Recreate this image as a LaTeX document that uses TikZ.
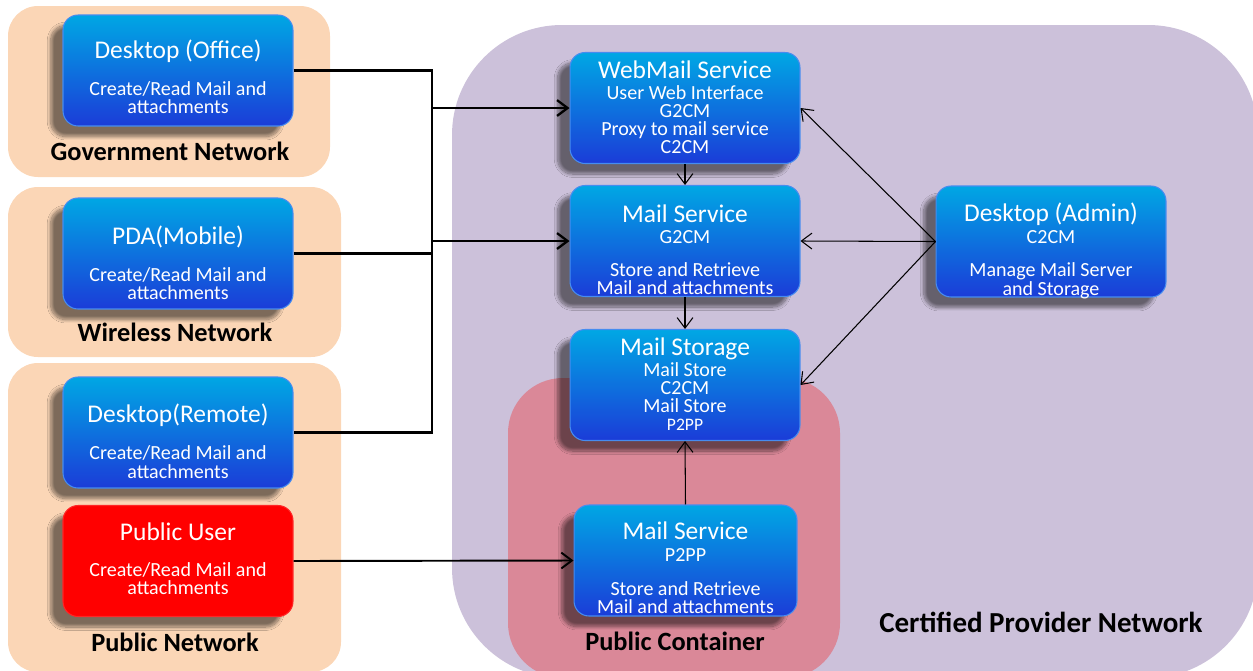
\documentclass[tikz,border=0pt]{standalone}
\usepackage{fontspec}
\setmainfont{Carlito}
\usetikzlibrary{arrows.meta,shadows.blur,calc}

\definecolor{peach}{RGB}{251,214,182}
\definecolor{lavender}{RGB}{204,193,218}
\definecolor{rosebg}{RGB}{218,136,152}
\definecolor{boxtop}{RGB}{0,167,228}
\definecolor{boxbot}{RGB}{27,60,216}
\definecolor{boxedge}{RGB}{70,140,240}

\newcommand\captionfont{\fontsize{11.4}{10.3}\selectfont\lineskiplimit=-100pt\relax}
\newcommand\ttl[1]{{\fontsize{14.5}{16}\selectfont #1}}

\tikzset{
  unit/.style={rounded corners=0.3cm, minimum width=4.6cm, minimum height=2.22cm,
    top color=boxtop, bottom color=boxbot, draw=boxedge, line width=0.6pt,
    blur shadow={shadow xshift=-7pt, shadow yshift=-6pt, shadow blur steps=12, shadow opacity=50}},
  redunit/.style={unit, top color=red, bottom color=red, draw=red!85!white},
  caption/.style={font=\captionfont, text=white, align=center, anchor=north, inner sep=0pt},
  zonelabel/.style={font=\fontsize{15}{18}\selectfont\bfseries, inner sep=0pt},
  bus/.style={line width=1.4pt},
  feed/.style={line width=1.4pt, -{Straight Barb[length=6pt,width=9pt,line width=1.3pt]}},
  link/.style={line width=0.6pt, -{Straight Barb[length=6pt,width=9pt]}},
}

\begin{document}
\begin{tikzpicture}[x=0.02cm, y=-0.02cm]
\useasboundingbox (0,0) rectangle (1253,670);
\clip (0,0) rectangle (1253,670);

% network zones
\fill[peach, rounded corners=0.6cm] (8,6) rectangle (330,177);
\fill[peach, rounded corners=0.6cm] (8,187) rectangle (341,357);
\fill[peach, rounded corners=0.6cm] (8,363) rectangle (341,672);
\fill[lavender, rounded corners=2.2cm] (452,25) rectangle (1258,678);
\fill[rosebg, rounded corners=1.1cm] (508,378) rectangle (840,678);

\node[zonelabel] (gov-l) at (170,151) {Government Network};
\node[zonelabel] (wl-l) at (175,332) {Wireless Network};
\node[zonelabel] (pub-l) at (175,642) {Public Network};
\node[zonelabel] (pc-l) at (675,641) {Public Container};
\node[zonelabel, font=\fontsize{16.5}{19}\selectfont\bfseries] (cp-l) at (1041,622) {Certified Provider Network};

% clients
\node[unit] (office) at (178,70.5) {};
\node[caption] (office-t) at ($(office.north)+(0,25)$)
  {\ttl{Desktop (Office)}\\[11pt]Create/Read Mail and\\attachments};
\node[unit] (pda) at (178,253.5) {};
\node[caption] (pda-t) at ($(pda.north)+(0,28)$)
  {\ttl{PDA(Mobile)}\\[11pt]Create/Read Mail and\\attachments};
\node[unit] (remote) at (178,432.5) {};
\node[caption] (remote-t) at ($(remote.north)+(0,27)$)
  {\ttl{Desktop(Remote)}\\[11pt]Create/Read Mail and\\attachments};
\node[redunit] (pubuser) at (178,561) {};
\node[caption] (pubuser-t) at ($(pubuser.north)+(0,17)$)
  {\ttl{Public User}\\[10.4pt]Create/Read Mail and\\attachments};

% provider services
\node[unit] (webmail) at (685,108) {};
\node[caption] (webmail-t) at ($(webmail.north)+(0,8)$)
  {\ttl{WebMail Service}\\[2pt]User Web Interface\\G2CM\\Proxy to mail service\\C2CM};
\node[unit] (mailsvc) at (685,241) {};
\node[caption] (mailsvc-t) at ($(mailsvc.north)+(0,19)$)
  {\ttl{Mail Service}\\[2pt]G2CM\\[8.5pt]Store and Retrieve\\Mail and attachments};
\node[unit] (storage) at (685,385) {};
\node[caption] (storage-t) at ($(storage.north)+(0,8)$)
  {\ttl{Mail Storage}\\[2pt]Mail Store\\C2CM\\Mail Store\\{\fontsize{10}{10}\selectfont P2PP}};
\node[unit, minimum width=4.46cm] (p2pp) at (685.5,560.5) {};
\node[caption] (p2pp-t) at ($(p2pp.north)+(0,17)$)
  {\ttl{Mail Service}\\[2pt]P2PP\\[9pt]Store and Retrieve\\Mail and attachments};
\node[unit] (admin) at (1051,241.5) {};
\node[caption] (admin-t) at ($(admin.north)+(0,17)$)
  {\ttl{Desktop (Admin)}\\[2pt]C2CM\\[9pt]Manage Mail Server\\and Storage};

% client bus
\coordinate (bt) at (432,70.5);
\coordinate (bb) at (432,432.5);
\draw[bus] (office.east) -- (bt) -- (bb) -- (remote.east);
\draw[bus] (pda.east) -- (pda.east -| bt);
\draw[feed] (bt |- webmail.west) -- (webmail.west);
\draw[feed] (bt |- mailsvc.west) -- (mailsvc.west);
\draw[link, line width=1.1pt] (pubuser.east) -- (p2pp.west);

% service chain
\draw[link] (webmail.south) -- (mailsvc.north);
\draw[link] (mailsvc.south) -- (storage.north);
\draw[link] (p2pp.north) -- (storage.south);

% administration
\draw[link] (admin.west) -- (webmail.east);
\draw[link] (admin.west) -- (mailsvc.east);
\draw[link] (admin.west) -- (storage.east);
\end{tikzpicture}
\end{document}
